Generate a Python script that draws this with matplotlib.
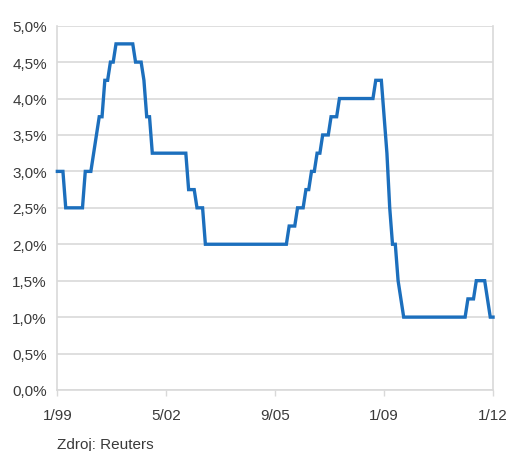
import matplotlib
matplotlib.use("Agg")
import matplotlib.pyplot as plt
import numpy as np

plt.rcParams["font.family"] = ["Liberation Sans", "DejaVu Sans"]

# ECB main refinancing rate, month-end values from 1/1999 to 1/2012 (%)
rate_1999 = [3.0, 3.0, 3.0, 2.5, 2.5, 2.5, 2.5, 2.5, 2.5, 2.5, 3.0, 3.0]
rate_2000 = [3.0, 3.25, 3.5, 3.75, 3.75, 4.25, 4.25, 4.5, 4.5, 4.75, 4.75, 4.75]
rate_2001 = [4.75, 4.75, 4.75, 4.75, 4.5, 4.5, 4.5, 4.25, 3.75, 3.75, 3.25, 3.25]
rate_2002 = [3.25, 3.25, 3.25, 3.25, 3.25, 3.25, 3.25, 3.25, 3.25, 3.25, 3.25, 2.75]
rate_2003 = [2.75, 2.75, 2.5, 2.5, 2.5, 2.0, 2.0, 2.0, 2.0, 2.0, 2.0, 2.0]
rate_2004 = [2.0, 2.0, 2.0, 2.0, 2.0, 2.0, 2.0, 2.0, 2.0, 2.0, 2.0, 2.0]
rate_2005 = [2.0, 2.0, 2.0, 2.0, 2.0, 2.0, 2.0, 2.0, 2.0, 2.0, 2.0, 2.25]
rate_2006 = [2.25, 2.25, 2.5, 2.5, 2.5, 2.75, 2.75, 3.0, 3.0, 3.25, 3.25, 3.5]
rate_2007 = [3.5, 3.5, 3.75, 3.75, 3.75, 4.0, 4.0, 4.0, 4.0, 4.0, 4.0, 4.0]
rate_2008 = [4.0, 4.0, 4.0, 4.0, 4.0, 4.0, 4.25, 4.25, 4.25, 3.75, 3.25, 2.5]
rate_2009 = [2.0, 2.0, 1.5, 1.25, 1.0, 1.0, 1.0, 1.0, 1.0, 1.0, 1.0, 1.0]
rate_2010 = [1.0, 1.0, 1.0, 1.0, 1.0, 1.0, 1.0, 1.0, 1.0, 1.0, 1.0, 1.0]
rate_2011 = [1.0, 1.0, 1.0, 1.25, 1.25, 1.25, 1.5, 1.5, 1.5, 1.5, 1.25, 1.0]
rate_2012 = [1.0]

rates = (rate_1999 + rate_2000 + rate_2001 + rate_2002 + rate_2003 + rate_2004
         + rate_2005 + rate_2006 + rate_2007 + rate_2008 + rate_2009 + rate_2010
         + rate_2011 + rate_2012)
months = np.arange(len(rates))

tick_months = [0, 39, 78, 117, 156]
tick_labels = ["1/99", "5/02", "9/05", "1/09", "1/12"]
y_ticks = [0.0, 0.5, 1.0, 1.5, 2.0, 2.5, 3.0, 3.5, 4.0, 4.5, 5.0]
y_labels = [f"{v:.1f}%".replace(".", ",") for v in y_ticks]

text_color = "#3a3a3a"
grid_color = "#d9d9d9"

fig = plt.figure(figsize=(5.12, 4.52), dpi=100)
ax = fig.add_axes([0.112, 0.135, 0.851, 0.806])

ax.plot(months, rates, color="#1c6fbd", linewidth=2.4, solid_joinstyle="miter",
        clip_on=False, zorder=3)

ax.set_xlim(0, len(rates) - 1)
ax.set_ylim(0, 5.0)

ax.set_yticks(y_ticks)
ax.set_yticklabels(y_labels)
ax.set_xticks(tick_months)
ax.set_xticklabels(tick_labels)

ax.grid(axis="y", color=grid_color, linewidth=1.2)
ax.set_axisbelow(True)

for side in ["left", "bottom", "right"]:
    ax.spines[side].set_color(grid_color)
    ax.spines[side].set_linewidth(1.2)
ax.spines["top"].set_visible(False)

ax.tick_params(axis="y", length=0, pad=7.5, labelsize=11, labelcolor=text_color)
ax.tick_params(axis="x", length=4, width=1.0, color=grid_color, pad=9,
               labelsize=11, labelcolor=text_color)

fig.text(0.112, 0.0075, "Zdroj: Reuters", fontsize=11, color=text_color,
         ha="left", va="baseline")

fig.savefig("out.png", dpi=100)
